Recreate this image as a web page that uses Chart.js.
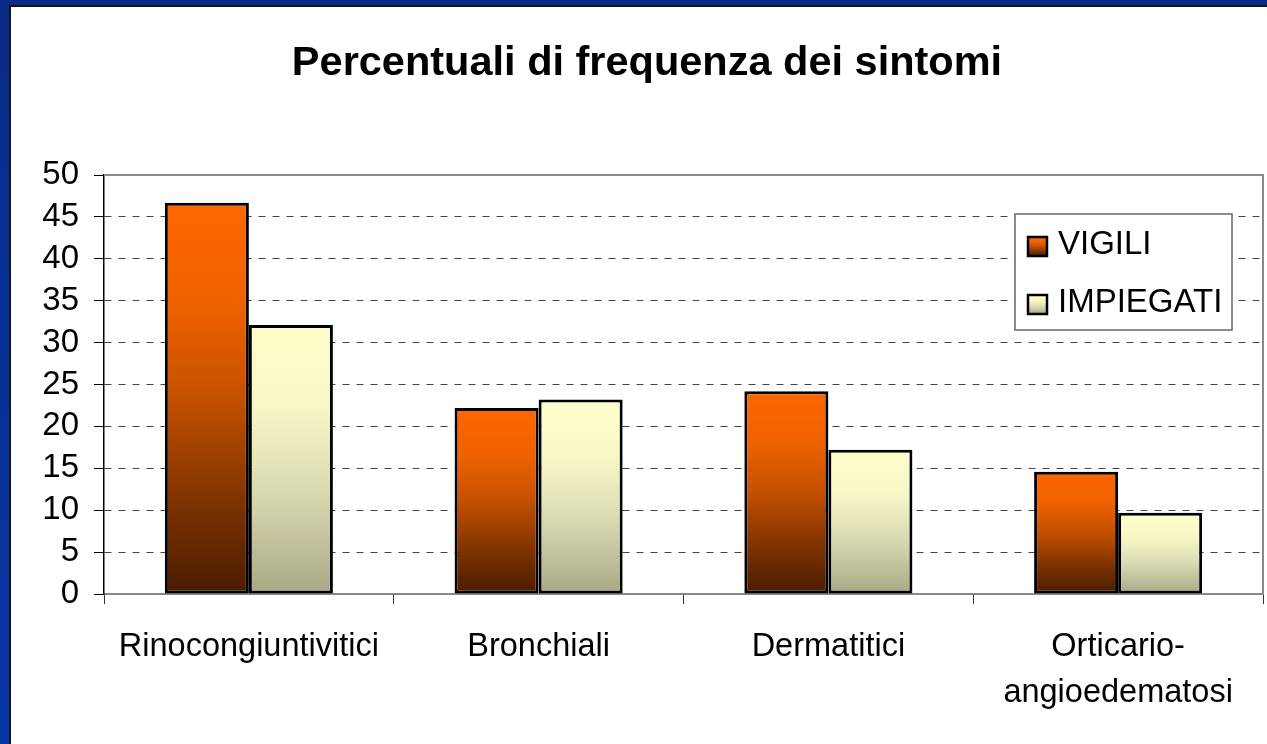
<!DOCTYPE html>
<html><head><meta charset="utf-8">
<script src="https://cdn.jsdelivr.net/npm/chart.js@4/dist/chart.umd.min.js"></script>
<style>
html,body{margin:0;padding:0;width:1267px;height:744px;overflow:hidden;background:linear-gradient(180deg,#0a2c88,#0636a6);}
#panel{position:absolute;left:9px;top:5px;width:1258px;height:739px;background:#fff;border-left:2px solid #14141e;border-top:2px solid #14141e;box-sizing:border-box;}
#wrap{position:absolute;left:0;top:0;width:1267px;height:744px;}
</style></head><body>
<div id="panel"></div>
<div id="wrap"><canvas id="c" width="1267" height="744"></canvas></div>
<script>
const chartTitle = 'Percentuali di frequenza dei sintomi';
const categories = ['Rinocongiuntivitici', 'Bronchiali', 'Dermatitici', ['Orticario-', 'angioedematosi']];
const seriesNames = ['VIGILI', 'IMPIEGATI'];
const vigili = [46.7, 22.2, 24.2, 14.6];
const impiegati = [32.1, 23.2, 17.2, 9.7];
const yMin = 0, yMax = 50, yStep = 5;

const palettes = [
  [[0, '#ff6600'], [0.25, '#f06200'], [0.5, '#c45000'], [0.75, '#823400'], [1, '#4a1c00']],
  [[0, '#ffffcc'], [0.3, '#f7f7c6'], [0.6, '#dcdcb4'], [1, '#a9a886']]
];

function fillGradient(ctx2d, idx, top, bottom) {
  const g = ctx2d.createLinearGradient(0, top, 0, bottom);
  palettes[idx].forEach(([o, c]) => g.addColorStop(o, c));
  return g;
}

function barGradient(idx) {
  return function (ctx) {
    const chart = ctx.chart;
    if (!chart.chartArea || ctx.type !== 'data' || !chart.scales.y) return palettes[idx][0][1];
    const ys = chart.scales.y;
    return fillGradient(chart.ctx, idx, ys.getPixelForValue(ctx.raw), ys.getPixelForValue(0));
  };
}

const framePlugin = {
  id: 'frame',
  beforeDatasetsDraw(chart) {
    const { ctx, chartArea: a } = chart;
    ctx.save();
    ctx.strokeStyle = '#8a8a8a';
    ctx.lineWidth = 2;
    ctx.beginPath();
    ctx.moveTo(a.left, a.top);
    ctx.lineTo(a.right, a.top);
    ctx.lineTo(a.right, a.bottom);
    ctx.stroke();
    ctx.restore();
  }
};

const titlePlugin = {
  id: 'customTitle',
  afterDraw(chart) {
    const ctx = chart.ctx;
    ctx.save();
    ctx.font = 'bold 41.5px "Liberation Sans", Arial, sans-serif';
    ctx.fillStyle = '#000';
    ctx.textAlign = 'center';
    ctx.textBaseline = 'alphabetic';
    ctx.fillText(chartTitle, 647, 74.5);
    ctx.restore();
  }
};

const legendPlugin = {
  id: 'customLegend',
  afterDraw(chart) {
    const ctx = chart.ctx;
    const bx = 1015, by = 214, bw = 217, bh = 116;
    ctx.save();
    ctx.fillStyle = '#fff';
    ctx.fillRect(bx, by, bw, bh);
    ctx.strokeStyle = '#666';
    ctx.lineWidth = 1.5;
    ctx.strokeRect(bx, by, bw, bh);
    ctx.font = '33px "Liberation Sans", Arial, sans-serif';
    ctx.textBaseline = 'middle';
    ctx.textAlign = 'left';
    chart.data.datasets.forEach((ds, i) => {
      const cy = by + 31 + i * 58;
      const sx = bx + 13, sy = cy - 8, s = 19;
      ctx.fillStyle = fillGradient(ctx, i, sy, sy + s);
      ctx.fillRect(sx, sy, s, s);
      ctx.strokeStyle = '#000';
      ctx.lineWidth = 2.5;
      ctx.strokeRect(sx, sy, s, s);
      ctx.fillStyle = '#000';
      ctx.fillText(ds.label, bx + 43, cy);
    });
    ctx.restore();
  }
};

Chart.defaults.font.family = '"Liberation Sans", Arial, sans-serif';
Chart.defaults.font.size = 32;
Chart.defaults.color = '#000';

new Chart(document.getElementById('c'), {
  type: 'bar',
  data: {
    labels: categories,
    datasets: [
      { label: seriesNames[0], data: vigili, backgroundColor: barGradient(0), borderColor: '#000', borderWidth: 3, borderSkipped: false },
      { label: seriesNames[1], data: impiegati, backgroundColor: barGradient(1), borderColor: '#000', borderWidth: 3, borderSkipped: false }
    ]
  },
  options: {
    responsive: false,
    animation: false,
    devicePixelRatio: 1,
    categoryPercentage: 0.58,
    barPercentage: 1,
    layout: { padding: { left: 0, right: 4, top: 175, bottom: 0 } },
    plugins: {
      legend: { display: false },
      tooltip: { enabled: false },
      title: { display: false }
    },
    scales: {
      x: {
        grid: { drawOnChartArea: false, tickLength: 10, tickColor: '#333', offset: true },
        border: { color: '#888', width: 2 },
        ticks: { padding: 20, font: { size: 32.5, lineHeight: 1.42 }, maxRotation: 0, autoSkip: false, color: '#000' },
        afterFit: s => { s.height = 150; }
      },
      y: {
        min: yMin, max: yMax,
        ticks: { stepSize: yStep, padding: 15, font: { size: 33 }, color: '#000', autoSkip: false },
        grid: { color: '#444', lineWidth: 1, tickLength: 10, tickColor: '#000', tickWidth: 1 },
        border: { color: '#000', width: 1.5, dash: [7, 7] },
        afterFit: s => { s.width = 104; }
      }
    }
  },
  plugins: [framePlugin, titlePlugin, legendPlugin]
});
</script>
</body></html>
